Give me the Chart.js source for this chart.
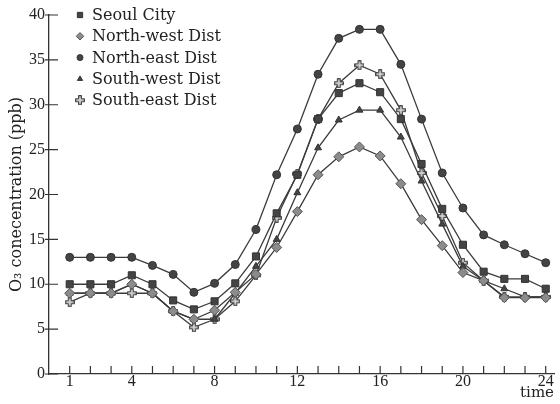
<!DOCTYPE html>
<html>
<head>
    <meta charset="utf-8" />
    <title>O3 concentration</title>
    <script src="https://cdn.jsdelivr.net/npm/chart.js@4.4.1/dist/chart.umd.min.js"></script>
    <style>
        html, body { margin: 0; padding: 0; background: #fff; }
        #box { width: 560px; height: 404px; }
    </style>
</head>
<body>
<div id="box"><canvas id="cht"></canvas></div>
<script>
    // horas do dia
    const hours = [1, 2, 3, 4, 5, 6, 7, 8, 9, 10, 11, 12, 13, 14, 15, 16, 17, 18, 19, 20, 21, 22, 23, 24];
    const xTickLabels = [1, 4, 8, 12, 16, 20, 24];

    const seoulCity = [10, 10, 10, 11, 10, 8.2, 7.2, 8.1, 10.1, 13.1, 17.9, 22.2, 28.4, 31.3, 32.4, 31.4, 28.4, 23.4, 18.4, 14.4, 11.4, 10.6, 10.6, 9.5];
    const northWest = [9, 9, 9, 10, 9, 7, 6.1, 7.1, 9.1, 11.1, 14.1, 18.1, 22.2, 24.2, 25.3, 24.3, 21.2, 17.2, 14.3, 11.3, 10.4, 8.5, 8.5, 8.5];
    const northEast = [13, 13, 13, 13, 12.1, 11.1, 9.1, 10.1, 12.2, 16.1, 22.2, 27.3, 33.4, 37.4, 38.4, 38.4, 34.5, 28.4, 22.4, 18.5, 15.5, 14.4, 13.4, 12.4];
    const southWest = [9, 9, 9, 10, 9, 7, 6.1, 6.1, 9, 12, 15, 20.2, 25.2, 28.3, 29.4, 29.4, 26.4, 21.5, 16.7, 12, 10.4, 9.5, 8.6, 8.6];
    const southEast = [8, 9, 9, 9, 9, 7, 5.2, 6.1, 8.1, 11, 17.4, 22.3, 28.4, 32.4, 34.4, 33.4, 29.4, 22.4, 17.6, 12.4, 10.4, 8.6, 8.6, 8.6];

    const lineColor = '#3b3b3b';

    // marcador em cruz (South-east)
    function makePlus() {
        const c = document.createElement('canvas');
        c.width = 10; c.height = 10;
        const g = c.getContext('2d');
        g.beginPath();
        g.moveTo(3.5, 0.5); g.lineTo(6.5, 0.5); g.lineTo(6.5, 3.5); g.lineTo(9.5, 3.5); g.lineTo(9.5, 6.5);
        g.lineTo(6.5, 6.5); g.lineTo(6.5, 9.5); g.lineTo(3.5, 9.5); g.lineTo(3.5, 6.5); g.lineTo(0.5, 6.5);
        g.lineTo(0.5, 3.5); g.lineTo(3.5, 3.5); g.closePath();
        g.fillStyle = '#9a9a9a';
        g.fill();
        g.strokeStyle = '#444';
        g.lineWidth = 1;
        g.stroke();
        g.beginPath();
        g.moveTo(5, 2); g.lineTo(5, 8); g.moveTo(2, 5); g.lineTo(8, 5);
        g.strokeStyle = '#e4e4e4';
        g.lineWidth = 1;
        g.stroke();
        return c;
    }
    const plusImg = makePlus();

    function serie(label, values, style, radius, fill, border) {
        return {
            label: label,
            data: hours.map((h, i) => ({ x: h, y: values[i] })),
            borderColor: lineColor,
            borderWidth: 1.3,
            pointStyle: style,
            pointRadius: radius,
            pointBackgroundColor: fill,
            pointBorderColor: border,
            pointBorderWidth: 1,
            tension: 0
        };
    }

    const datasets = [
        serie('Seoul City', seoulCity, 'rect', 5, '#444', '#333'),
        serie('North-west Dist', northWest, 'rectRot', 5, '#8c8c8c', '#555'),
        serie('North-east Dist', northEast, 'circle', 4, '#444', '#333'),
        serie('South-west Dist', southWest, 'triangle', 4, '#444', '#333'),
        serie('South-east Dist', southEast, plusImg, 5, '#9a9a9a', '#444')
    ];

    // marcas dos eixos e legenda desenhadas dentro da area
    const extras = {
        id: 'extras',
        afterDraw(chart) {
            const ctx = chart.ctx;
            const xs = chart.scales.x, ys = chart.scales.y;
            const area = chart.chartArea;
            ctx.save();
            ctx.strokeStyle = '#333';
            ctx.lineWidth = 1.2;
            ctx.beginPath();
            hours.forEach(h => {
                const px = xs.getPixelForValue(h);
                ctx.moveTo(px, area.bottom);
                ctx.lineTo(px, area.bottom - 8);
            });
            ys.ticks.forEach(t => {
                const py = ys.getPixelForValue(t.value);
                ctx.moveTo(area.left - 4, py);
                ctx.lineTo(area.left + 9, py);
            });
            ctx.stroke();

            // legenda
            ctx.font = '16px "DejaVu Serif"';
            ctx.textBaseline = 'middle';
            ctx.textAlign = 'left';
            chart.data.datasets.forEach((ds, i) => {
                const y = area.top + i * 21.3;
                const x = area.left + 31;
                ctx.fillStyle = ds.pointBackgroundColor;
                ctx.strokeStyle = ds.pointBorderColor;
                ctx.lineWidth = 1;
                Chart.helpers.drawPoint(ctx, { pointStyle: ds.pointStyle, radius: ds.pointRadius * 0.75, borderWidth: 1, rotation: 0 }, x, y);
                ctx.fillStyle = '#222';
                ctx.fillText(ds.label, x + 12, y + 1);
            });
            ctx.restore();
        }
    };

    new Chart(document.getElementById('cht').getContext('2d'), {
        type: 'line',
        data: { datasets: datasets },
        options: {
            responsive: true,
            maintainAspectRatio: false,
            animation: false,
            layout: { padding: { left: 5, top: 15, right: 4, bottom: 3 } },
            plugins: {
                legend: { display: false },
                tooltip: { enabled: false }
            },
            scales: {
                x: {
                    type: 'linear',
                    min: 0,
                    max: 24.4,
                    afterBuildTicks: s => { s.ticks = xTickLabels.map(v => ({ value: v })); },
                    grid: { display: false, drawTicks: false },
                    border: { display: true, color: '#333', width: 1.3 },
                    ticks: {
                        padding: 0,
                        color: '#222',
                        font: { family: '"Liberation Serif"', size: 16, lineHeight: 1 }
                    },
                    title: {
                        display: true,
                        text: 'time',
                        align: 'end',
                        color: '#222',
                        padding: { top: -4, bottom: 0 },
                        font: { family: '"DejaVu Serif"', size: 15, lineHeight: 1 }
                    }
                },
                y: {
                    min: 0,
                    max: 40,
                    grid: { display: false, drawTicks: false },
                    border: { display: true, color: '#333', width: 1.3 },
                    ticks: {
                        stepSize: 5,
                        padding: 4,
                        color: '#222',
                        font: { family: '"Liberation Serif"', size: 16, lineHeight: 1 }
                    },
                    title: {
                        display: true,
                        text: 'O₃ conecentration (ppb)',
                        color: '#222',
                        padding: { top: 4, bottom: 0 },
                        font: { family: '"DejaVu Serif"', size: 16, lineHeight: 1 }
                    }
                }
            }
        },
        plugins: [extras]
    });
</script>
</body>
</html>
